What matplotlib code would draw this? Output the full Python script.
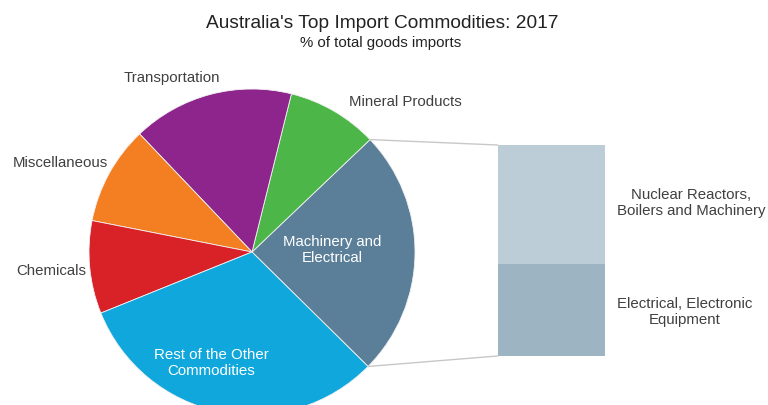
import matplotlib
matplotlib.use("Agg")
import matplotlib.pyplot as plt
import numpy as np

plt.rcParams['font.family'] = ['Liberation Sans', 'DejaVu Sans']

# Data (% of total goods imports)
categories = ["Machinery and\nElectrical", "Mineral Products", "Transportation",
              "Miscellaneous", "Chemicals", "Rest of the Other\nCommodities"]
values = [24.5, 9.0, 16.0, 9.8, 9.2, 31.5]
colors = ["#5b7f99", "#4cb748", "#8e258d", "#f47f22", "#d92128", "#10a8dc"]

sub_categories = ["Electrical, Electronic\nEquipment", "Nuclear Reactors,\nBoilers and Machinery"]
sub_values = [10.7, 13.8]
sub_colors = ["#9db4c3", "#bccdd8"]

W, H = 768, 405
fig = plt.figure(figsize=(W / 100, H / 100), dpi=100)
ax = fig.add_axes([0, 0, 1, 1])

cx, cy, R = 252, 405 - 252, 163
start = -44.6
wedges, _ = ax.pie(values, colors=colors, startangle=start, counterclock=True,
                   center=(cx, cy), radius=R,
                   wedgeprops=dict(linewidth=0.6, edgecolor="#f2f2f2"))

# Bar of pie
bar_x, bar_w, bar_bottom = 551, 107, 405 - 356
total_px = 211
scale = total_px / sum(sub_values)
b = bar_bottom
for v, c in zip(sub_values, sub_colors):
    ax.bar(bar_x, v * scale, width=bar_w, bottom=b, color=c, edgecolor="none")
    b += v * scale

# connector lines
th1 = np.deg2rad(start)
th2 = np.deg2rad(start + values[0] / sum(values) * 360)
ax.plot([cx + R * np.cos(th2), bar_x - bar_w / 2], [cy + R * np.sin(th2), b],
        color="#c8c8c8", lw=1)
ax.plot([cx + R * np.cos(th1), bar_x - bar_w / 2], [cy + R * np.sin(th1), bar_bottom],
        color="#c8c8c8", lw=1)

ax.set_xlim(0, W)
ax.set_ylim(0, H)
ax.set_aspect("equal")
ax.axis("off")

tc = "#404040"
fs = 10.8
ls = 1.15
ax.text(172, 405 - 78, categories[2], ha="center", va="center", fontsize=fs, color=tc)
ax.text(405, 405 - 102, categories[1], ha="center", va="center", fontsize=fs, color=tc)
ax.text(60, 405 - 163, categories[3], ha="center", va="center", fontsize=fs, color=tc)
ax.text(51, 405 - 271, categories[4], ha="center", va="center", fontsize=fs, color=tc)
ax.text(332, 405 - 250, categories[0], ha="center", va="center", fontsize=fs,
        color="white", linespacing=ls)
ax.text(211, 405 - 363, categories[5], ha="center", va="center", fontsize=fs,
        color="white", linespacing=ls)
ax.text(691, 405 - 203, sub_categories[1], ha="center", va="center", fontsize=fs,
        color=tc, linespacing=ls)
ax.text(685, 405 - 312, sub_categories[0], ha="center", va="center", fontsize=fs,
        color=tc, linespacing=ls)

ax.text(382, 405 - 23, "Australia's Top Import Commodities: 2017", ha="center",
        va="center", fontsize=13.8, color="#222222")
ax.text(381, 405 - 43, "% of total goods imports", ha="center", va="center",
        fontsize=10.8, color="#222222")

fig.savefig("out.png", dpi=100)
